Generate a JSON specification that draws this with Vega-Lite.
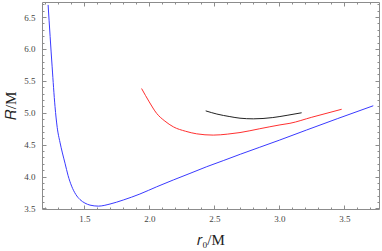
{
  "$schema": "https://vega.github.io/schema/vega-lite/v6.json",
  "width": 337,
  "height": 207,
  "autosize": "none",
  "padding": {"left": 42, "top": 2, "right": 3, "bottom": 42},
  "background": "white",
  "config": {
    "view": {"stroke": "#8c8c8c", "strokeWidth": 1},
    "axis": {"domain": false, "grid": false, "labelFont": "Liberation Serif", "titleFont": "Liberation Serif", "labelColor": "#444444", "titleColor": "#222222", "tickColor": "#8c8c8c"}
  },
  "data": {"values": [
    {"s": "blue", "x": 1.222, "y": 6.69},
    {"s": "blue", "x": 1.253, "y": 5.72},
    {"s": "blue", "x": 1.275, "y": 5.1},
    {"s": "blue", "x": 1.292, "y": 4.77},
    {"s": "blue", "x": 1.313, "y": 4.54},
    {"s": "blue", "x": 1.332, "y": 4.37},
    {"s": "blue", "x": 1.352, "y": 4.21},
    {"s": "blue", "x": 1.375, "y": 4.02},
    {"s": "blue", "x": 1.403, "y": 3.85},
    {"s": "blue", "x": 1.435, "y": 3.72},
    {"s": "blue", "x": 1.467, "y": 3.64},
    {"s": "blue", "x": 1.505, "y": 3.585},
    {"s": "blue", "x": 1.544, "y": 3.553},
    {"s": "blue", "x": 1.608, "y": 3.537},
    {"s": "blue", "x": 1.698, "y": 3.57},
    {"s": "blue", "x": 1.8, "y": 3.633},
    {"s": "blue", "x": 1.928, "y": 3.727},
    {"s": "blue", "x": 2.057, "y": 3.84},
    {"s": "blue", "x": 2.185, "y": 3.947},
    {"s": "blue", "x": 2.313, "y": 4.05},
    {"s": "blue", "x": 2.442, "y": 4.155},
    {"s": "blue", "x": 2.569, "y": 4.25},
    {"s": "blue", "x": 2.7, "y": 4.35},
    {"s": "blue", "x": 2.85, "y": 4.46},
    {"s": "blue", "x": 3.0, "y": 4.57},
    {"s": "blue", "x": 3.21, "y": 4.73},
    {"s": "blue", "x": 3.45, "y": 4.91},
    {"s": "blue", "x": 3.723, "y": 5.11},
    {"s": "red", "x": 1.941, "y": 5.38},
    {"s": "red", "x": 2.0, "y": 5.17},
    {"s": "red", "x": 2.057, "y": 4.99},
    {"s": "red", "x": 2.12, "y": 4.87},
    {"s": "red", "x": 2.185, "y": 4.78},
    {"s": "red", "x": 2.28, "y": 4.71},
    {"s": "red", "x": 2.365, "y": 4.67},
    {"s": "red", "x": 2.492, "y": 4.65},
    {"s": "red", "x": 2.6, "y": 4.665},
    {"s": "red", "x": 2.698, "y": 4.69},
    {"s": "red", "x": 2.85, "y": 4.75},
    {"s": "red", "x": 3.005, "y": 4.81},
    {"s": "red", "x": 3.082, "y": 4.835},
    {"s": "red", "x": 3.25, "y": 4.93},
    {"s": "red", "x": 3.48, "y": 5.055},
    {"s": "black", "x": 2.434, "y": 5.03},
    {"s": "black", "x": 2.52, "y": 4.98},
    {"s": "black", "x": 2.62, "y": 4.94},
    {"s": "black", "x": 2.698, "y": 4.915},
    {"s": "black", "x": 2.8, "y": 4.905},
    {"s": "black", "x": 2.95, "y": 4.925},
    {"s": "black", "x": 3.06, "y": 4.96},
    {"s": "black", "x": 3.172, "y": 5.0}
  ]},
  "resolve": {"axis": {"x": "independent", "y": "independent"}},
  "layer": [
    {
      "mark": {"type": "line", "strokeWidth": 1, "clip": true, "interpolate": "monotone"},
      "encoding": {
        "x": {"field": "x", "type": "quantitative", "scale": {"domain": [1.175, 3.767], "zero": false, "nice": false},
          "axis": {"orient": "bottom", "values": [1.5, 2.0, 2.5, 3.0, 3.5], "format": ".1f", "ticks": false, "labelPadding": 5, "labelFont": "Liberation Serif", "labelFontSize": 9, "title": "𝑟₀/M", "titleFont": "Liberation Serif", "titleFontSize": 15, "titleFontWeight": "normal", "titlePadding": 9}},
        "y": {"field": "y", "type": "quantitative", "scale": {"domain": [3.492, 6.736], "zero": false, "nice": false},
          "axis": {"orient": "left", "values": [3.5, 4.0, 4.5, 5.0, 5.5, 6.0, 6.5], "format": ".1f", "ticks": false, "labelPadding": 7, "labelFont": "Liberation Serif", "labelFontSize": 9, "title": "𝑅/M", "titleFont": "Liberation Serif", "titleFontSize": 15, "titleFontWeight": "normal", "titlePadding": 5}},
        "color": {"field": "s", "type": "nominal", "scale": {"domain": ["blue", "red", "black"], "range": ["#3a3aff", "#ff3030", "#222222"]}, "legend": null},
        "detail": {"field": "s"}
      }
    },
    {
      "mark": {"type": "line", "strokeOpacity": 0},
      "encoding": {
        "x": {"field": "x", "type": "quantitative", "axis": {"orient": "bottom", "values": [1.5, 2.0, 2.5, 3.0, 3.5], "labels": false, "title": null, "tickSize": -4}},
        "y": {"field": "y", "type": "quantitative", "axis": {"orient": "left", "values": [3.5, 4.0, 4.5, 5.0, 5.5, 6.0, 6.5], "labels": false, "title": null, "tickSize": -4}},
        "detail": {"field": "s"}
      }
    },
    {
      "mark": {"type": "line", "strokeOpacity": 0},
      "encoding": {
        "x": {"field": "x", "type": "quantitative", "axis": {"orient": "bottom", "values": [1.2, 1.3, 1.4, 1.6, 1.7, 1.8, 1.9, 2.1, 2.2, 2.3, 2.4, 2.6, 2.7, 2.8, 2.9, 3.1, 3.2, 3.3, 3.4, 3.6, 3.7], "labels": false, "title": null, "tickSize": -2}},
        "y": {"field": "y", "type": "quantitative", "axis": {"orient": "left", "values": [3.6, 3.7, 3.8, 3.9, 4.1, 4.2, 4.3, 4.4, 4.6, 4.7, 4.8, 4.9, 5.1, 5.2, 5.3, 5.4, 5.6, 5.7, 5.8, 5.9, 6.1, 6.2, 6.3, 6.4, 6.6, 6.7], "labels": false, "title": null, "tickSize": -2}},
        "detail": {"field": "s"}
      }
    },
    {
      "mark": {"type": "line", "strokeOpacity": 0},
      "encoding": {
        "x": {"field": "x", "type": "quantitative", "axis": {"orient": "top", "values": [1.5, 2.0, 2.5, 3.0, 3.5], "labels": false, "title": null, "tickSize": -4}},
        "y": {"field": "y", "type": "quantitative", "axis": {"orient": "right", "values": [3.5, 4.0, 4.5, 5.0, 5.5, 6.0, 6.5], "labels": false, "title": null, "tickSize": -4}},
        "detail": {"field": "s"}
      }
    },
    {
      "mark": {"type": "line", "strokeOpacity": 0},
      "encoding": {
        "x": {"field": "x", "type": "quantitative", "axis": {"orient": "top", "values": [1.2, 1.3, 1.4, 1.6, 1.7, 1.8, 1.9, 2.1, 2.2, 2.3, 2.4, 2.6, 2.7, 2.8, 2.9, 3.1, 3.2, 3.3, 3.4, 3.6, 3.7], "labels": false, "title": null, "tickSize": -2}},
        "y": {"field": "y", "type": "quantitative", "axis": {"orient": "right", "values": [3.6, 3.7, 3.8, 3.9, 4.1, 4.2, 4.3, 4.4, 4.6, 4.7, 4.8, 4.9, 5.1, 5.2, 5.3, 5.4, 5.6, 5.7, 5.8, 5.9, 6.1, 6.2, 6.3, 6.4, 6.6, 6.7], "labels": false, "title": null, "tickSize": -2}},
        "detail": {"field": "s"}
      }
    }
  ]
}
